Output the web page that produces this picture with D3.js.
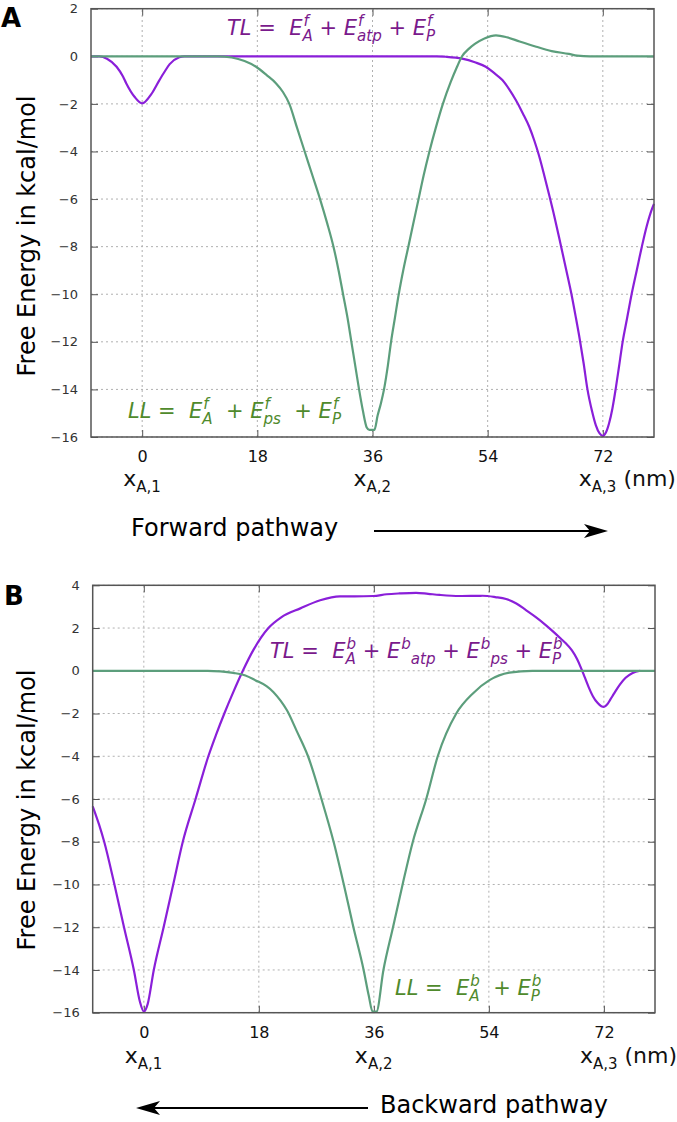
<!DOCTYPE html>
<html>
<head>
<meta charset="utf-8">
<script src="https://cdn.jsdelivr.net/npm/d3@7"></script>
<style>
  body { margin: 0; background: #fff; }
  text { font-family: "DejaVu Sans", sans-serif; white-space: pre; }
</style>
</head>
<body>
<div id="chart"></div>
<script>
// ---- data ----
var xTicks = [0, 18, 36, 54, 72];
var xSubLabels = ["1", "2", "3"];
var yTicksA = [-16, -14, -12, -10, -8, -6, -4, -2, 0, 2];
var yTicksB = [-16, -14, -12, -10, -8, -6, -4, -2, 0, 2, 4];

// forward pathway, TL (purple)
var fwdTL = [[-8,0],[-6.7,0],[-5.5,-0.1],[-4,-0.44],[-3,-0.85],[-2.5,-1.13],[-1.2,-1.7],[0,-1.98],
  [1.4,-1.6],[2.7,-1.0],[3.5,-0.65],[4.3,-0.33],[5.8,-0.04],[6.6,0],[20,0],[40,0],[46,0],[47.4,-0.02],
  [50,-0.1],[52,-0.25],[53.7,-0.44],[55,-0.7],[56.3,-1.0],[57.4,-1.4],[58.4,-1.84],[59.5,-2.4],
  [60.5,-2.96],[61.3,-3.55],[62,-4.15],[62.7,-4.85],[63.4,-5.6],[64.4,-6.7],[65.4,-7.9],[66.3,-9.0],
  [67.1,-10.0],[67.8,-11],[68.4,-11.9],[69,-12.9],[69.6,-14],[70.3,-14.9],[70.9,-15.5],[71.5,-15.85],
  [72,-15.95],[72.5,-15.8],[73,-15.4],[73.5,-14.8],[74,-14],[74.5,-13.1],[75.1,-12],[75.8,-11],
  [76.5,-10],[77.3,-9],[78.1,-8],[78.9,-7.1],[79.7,-6.4],[80,-6.2]];
// forward pathway, LL (green)
var fwdLL = [[-8,0],[11.8,0],[14,-0.05],[16,-0.2],[17.8,-0.44],[19.5,-0.8],[20.9,-1.13],[22,-1.5],
  [23,-2],[24.2,-3],[25.4,-4],[26.6,-5],[27.8,-6],[28.9,-7],[29.9,-8],[30.7,-9],[31.4,-10],
  [32.1,-11],[32.7,-12],[33.3,-13],[33.9,-14],[34.5,-14.9],[35.1,-15.6],[35.5,-15.7],[36.3,-15.7],
  [36.8,-15.1],[37.3,-14.6],[37.8,-14],[38.4,-13],[38.9,-12],[39.5,-11],[40.1,-10],[40.8,-9],
  [41.6,-8],[42.4,-7],[43.2,-6],[44.0,-5],[44.9,-4],[45.9,-3],[47.0,-2],[48.2,-1.1],[49.2,-0.45],
  [50,0],[51,0.3],[52,0.52],[53.5,0.75],[55.3,0.88],[57,0.8],[59,0.62],[61.6,0.4],[64,0.22],
  [66.7,0.1],[68,0.03],[70,0],[80,0]];
// backward pathway, TL (purple)
var bwdTL = [[-8,-6.34],[-7,-7.2],[-6.2,-8],[-4.6,-10],[-3.1,-12],[-1.56,-14],[-0.6,-15.5],[0,-15.95],
  [0.6,-15.6],[1.56,-14],[3.1,-12],[4.6,-10],[6.1,-8],[8.1,-6],[10.1,-4],[11.3,-3],[12.6,-2],
  [14.0,-1],[15.5,0],[17.2,1],[19.5,2],[21.5,2.5],[24.5,2.92],[27.6,3.3],[30.7,3.48],[33,3.48],
  [35.9,3.5],[38,3.58],[40,3.62],[42.6,3.65],[44.5,3.6],[46.3,3.55],[49.4,3.5],[53,3.51],[55,3.45],
  [56.7,3.36],[58.3,3.15],[59.8,2.84],[61.4,2.5],[62.9,2.14],[64.2,1.8],[65.5,1.44],[66,1.3],
  [67,0.95],[67.8,0.55],[68.4,0.15],[69,-0.3],[69.6,-0.75],[70.3,-1.2],[71,-1.5],[71.6,-1.66],
  [72,-1.69],[72.5,-1.58],[73,-1.35],[73.6,-1.06],[74.5,-0.65],[75.4,-0.33],[76.5,-0.1],[77.7,0]];
// backward pathway, LL (green)
var bwdLL = [[-8,0],[10,0],[12,-0.03],[14,-0.1],[15.9,-0.22],[17.5,-0.45],[19.2,-0.72],[20.3,-1.0],
  [21.4,-1.4],[22.4,-1.85],[23.9,-2.8],[25.7,-4],[27.8,-6],[29.7,-8],[31.3,-10],[32.8,-12],[34.4,-14],
  [35.2,-15.2],[35.8,-15.95],[36.4,-15.95],[37.5,-14],[39,-12],[40.5,-10],[42.1,-8],[44.2,-6],
  [46,-4],[48.9,-2],[51.5,-1.06],[54.1,-0.44],[57.2,-0.09],[60.8,0],[80,0]];

var purple = "#8a1fd9", green = "#5c9e7c";
var purpleText = "#7a1a8c", greenText = "#4f8a2c";

var svg = d3.select('#chart').append('svg')
  .attr('width', 677)
  .attr('height', 1122);

function drawPanel(p) {
  var g = svg.append('g');
  var x = p.x, y = p.y;
  var x0 = x.range()[0], x1 = x.range()[1];
  var y0 = y.range()[0], y1 = y.range()[1];

  // grid
  g.selectAll('.gx').data(xTicks).enter().append('line')
    .attr('x1', d => x(d)).attr('x2', d => x(d))
    .attr('y1', y0).attr('y2', y1)
    .attr('stroke', '#b0b0b0').attr('stroke-width', 1).attr('stroke-dasharray', '2,3');
  g.selectAll('.gy').data(p.yTicks).enter().append('line')
    .attr('x1', x0).attr('x2', x1)
    .attr('y1', d => y(d)).attr('y2', d => y(d))
    .attr('stroke', '#b0b0b0').attr('stroke-width', 1).attr('stroke-dasharray', '2,3');

  // axes (inward ticks, mirrored)
  g.append('g').attr('transform', 'translate(' + x0 + ',0)')
    .call(d3.axisLeft(y).tickValues(p.yTicks).tickSize(-7).tickPadding(13))
    .call(a => a.select('.domain').remove())
    .call(a => a.selectAll('text').attr('font-size', 13).attr('fill', '#333').style('font-family', 'DejaVu Sans'));
  g.append('g').attr('transform', 'translate(' + x1 + ',0)')
    .call(d3.axisRight(y).tickValues(p.yTicks).tickSize(-7).tickFormat(''))
    .call(a => a.select('.domain').remove());
  g.append('g').attr('transform', 'translate(0,' + y0 + ')')
    .call(d3.axisBottom(x).tickValues(xTicks).tickSize(-7).tickPadding(14))
    .call(a => a.select('.domain').remove())
    .call(a => a.selectAll('text').attr('font-size', 16).attr('fill', '#111').style('font-family', 'DejaVu Sans'));
  g.append('g').attr('transform', 'translate(0,' + y1 + ')')
    .call(d3.axisTop(x).tickValues(xTicks).tickSize(-7).tickFormat(''))
    .call(a => a.select('.domain').remove());
  g.selectAll('.tick line').attr('stroke', '#555');

  // curves: TL underneath, LL on top
  var line = d3.line().x(d => x(d[0])).y(d => y(d[1])).curve(d3.curveMonotoneX);
  g.append('path').datum(p.tl).attr('d', line)
    .attr('fill', 'none').attr('stroke', purple).attr('stroke-width', 2.2);
  g.append('path').datum(p.ll).attr('d', line)
    .attr('fill', 'none').attr('stroke', green).attr('stroke-width', 2.2);

  // frame
  g.append('rect').attr('x', x0).attr('y', y1)
    .attr('width', x1 - x0).attr('height', y0 - y1)
    .attr('fill', 'none').attr('stroke', '#555').attr('stroke-width', 1.5);

  // panel letter
  g.append('text').attr('x', p.letterX).attr('y', p.letterY)
    .attr('font-size', 26).attr('font-weight', 'bold').text(p.letter);

  // y label
  g.append('text')
    .attr('transform', 'translate(35,' + p.labelY + ') rotate(-90)')
    .attr('text-anchor', 'middle').attr('font-size', 24)
    .text('Free Energy in kcal/mol');

  // x position labels
  var xl = [x(0) - 19, x(36) - 19, x(72) - 24];
  xl.forEach(function(px, i) {
    var t = g.append('text').attr('x', px).attr('y', y0 + p.subDy).attr('font-size', 22).attr('fill', '#111');
    t.append('tspan').text('x');
    t.append('tspan').attr('font-size', 15).attr('dy', 6).text('A,' + xSubLabels[i]);
    if (i == 2) t.append('tspan').attr('dy', -6).text(' (nm)');
  });

  drawFormula(g, p.tlX, p.tlY, p.tlParts, purpleText, 21);
  drawFormula(g, p.llX, p.llY, p.llParts, greenText, 21);
}

// formula: plain text pieces and super/subscripts
function drawFormula(g, x, y, parts, color, size) {
  var cx = x;
  parts.forEach(function(pt) {
    if (typeof pt === 'string') {
      var t = g.append('text').attr('x', cx).attr('y', y).attr('font-size', size)
        .attr('font-style', 'italic').attr('fill', color).text(pt);
      cx += t.node().getComputedTextLength();
    } else {
      var s = g.append('text').attr('x', cx + 1).attr('y', y - size * 0.45).attr('font-size', size * 0.72)
        .attr('font-style', 'italic').attr('fill', color).text(pt.sup);
      var sw = s.node().getComputedTextLength();
      var sx = pt.after ? cx + sw + 1 : cx;
      var b = g.append('text').attr('x', sx).attr('y', y + size * 0.3).attr('font-size', size * 0.72)
        .attr('font-style', 'italic').attr('fill', color).text(pt.sub);
      cx = Math.max(cx + sw + 1, sx + b.node().getComputedTextLength());
    }
  });
}

drawPanel({
  x: d3.scaleLinear().domain([-8, 80]).range([91, 654]),
  y: d3.scaleLinear().domain([-16, 2]).range([437, 8.7]),
  yTicks: yTicksA, tl: fwdTL, ll: fwdLL,
  letter: 'A', letterX: 1, letterY: 27, labelY: 236, subDy: 49,
  tlX: 227, tlY: 35,
  tlParts: ['TL =  E', {sup: 'f', sub: 'A'}, ' + E', {sup: 'f', sub: 'atp'}, ' + E', {sup: 'f', sub: 'P'}],
  llX: 128, llY: 418,
  llParts: ['LL =  E', {sup: 'f', sub: 'A'}, '  + E', {sup: 'f', sub: 'ps'}, '  + E', {sup: 'f', sub: 'P'}]
});

drawPanel({
  x: d3.scaleLinear().domain([-8, 80]).range([92.7, 655]),
  y: d3.scaleLinear().domain([-16, 4]).range([1012.7, 585.3]),
  yTicks: yTicksB, tl: bwdTL, ll: bwdLL,
  letter: 'B', letterX: 4, letterY: 605, labelY: 810, subDy: 50,
  tlX: 270, tlY: 658,
  tlParts: ['TL =  E', {sup: 'b', sub: 'A'}, ' + E', {sup: 'b', sub: 'atp', after: true}, ' + E', {sup: 'b', sub: 'ps', after: true}, ' + E', {sup: 'b', sub: 'P'}],
  llX: 395, llY: 995,
  llParts: ['LL =  E', {sup: 'b', sub: 'A'}, '  + E', {sup: 'b', sub: 'P'}]
});

// pathway arrows
function arrow(xa, xb, yy) {
  var dir = xb > xa ? 1 : -1;
  svg.append('line').attr('x1', xa).attr('x2', xb - dir * 18).attr('y1', yy).attr('y2', yy)
    .attr('stroke', '#000').attr('stroke-width', 2);
  svg.append('path')
    .attr('d', 'M' + xb + ',' + yy + 'L' + (xb - dir * 24) + ',' + (yy - 7) + 'L' + (xb - dir * 18) + ',' + yy +
      'L' + (xb - dir * 24) + ',' + (yy + 7) + 'Z')
    .attr('fill', '#000');
}
svg.append('text').attr('x', 131).attr('y', 536).attr('font-size', 24).text('Forward pathway');
arrow(374, 608, 531);
svg.append('text').attr('x', 380).attr('y', 1113).attr('font-size', 24).text('Backward pathway');
arrow(368, 136, 1108);
</script>
</body>
</html>
